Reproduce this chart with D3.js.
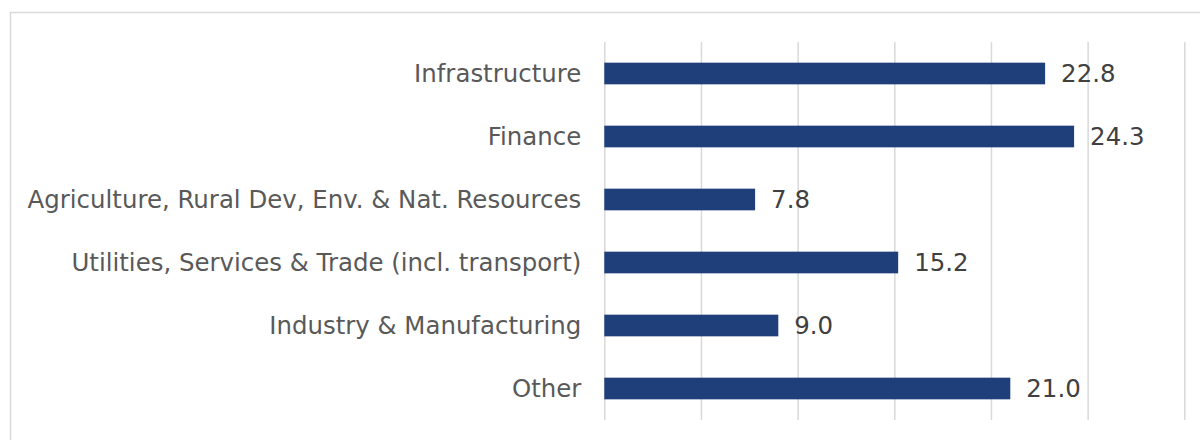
<!DOCTYPE html>
<html>
<head>
<meta charset="utf-8">
<script src="https://cdn.jsdelivr.net/npm/d3@7"></script>
<style>
  body { margin: 0; background: #fff; }
</style>
</head>
<body>
<div id="chart"></div>
<script>
var w = 1200,
    h = 440,
    x0 = 604.3,
    x1 = 1184.3,
    top_y = 42,
    bottom_y = 420,
    font = "'DejaVu Sans'",
    font_size = 24.45;

// data
var sectors = ['Infrastructure', 'Finance', 'Agriculture, Rural Dev, Env. & Nat. Resources',
               'Utilities, Services & Trade (incl. transport)', 'Industry & Manufacturing', 'Other'];
var shares = [22.8, 24.3, 7.8, 15.2, 9.0, 21.0];
var ticks = [0, 5, 10, 15, 20, 25, 30];

var svg = d3.select('#chart').append('svg')
    .attr('width', w)
    .attr('height', h);

// chart frame
svg.append('rect')
    .attr('x', 10.5)
    .attr('y', 12.5)
    .attr('width', 1200)
    .attr('height', 460)
    .attr('fill', '#fff')
    .attr('stroke', '#d9d9d9')
    .attr('stroke-width', 1.5);

var x = d3.scaleLinear().domain([0, 30]).range([x0, x1]);
var y = d3.scaleBand().domain(sectors).range([top_y, bottom_y]).paddingInner(0.656).paddingOuter(0.328);

// vertical gridlines
var grid = svg.append('g')
    .attr('transform', 'translate(0,' + bottom_y + ')')
    .call(d3.axisBottom(x).tickValues(ticks).tickSize(-(bottom_y - top_y)).tickFormat(''));
grid.select('.domain').remove();
grid.selectAll('line').attr('stroke', '#d9d9d9').attr('stroke-width', 1.5);

// category labels
var yAxis = svg.append('g')
    .attr('transform', 'translate(' + (x0 - 23) + ',0)')
    .call(d3.axisLeft(y).tickSize(0).tickPadding(0));
yAxis.select('.domain').remove();
yAxis.attr('font-family', null).attr('font-size', null);
yAxis.selectAll('text')
    .attr('fill', '#595959')
    .attr('dy', '0.35em')
    .style('font-family', font)
    .style('font-size', font_size + 'px');

var rows = sectors.map(function(s, i){ return {name: s, value: shares[i]}; });

svg.selectAll('rect.bar')
    .data(rows)
  .enter().append('rect')
    .attr('class', 'bar')
    .attr('x', x(0))
    .attr('y', function(d){ return y(d.name); })
    .attr('width', function(d){ return x(d.value) - x(0); })
    .attr('height', y.bandwidth())
    .attr('fill', '#1f3f7a');

svg.selectAll('text.val')
    .data(rows)
  .enter().append('text')
    .attr('class', 'val')
    .attr('x', function(d){ return x(d.value) + 16; })
    .attr('y', function(d){ return y(d.name) + y.bandwidth() / 2; })
    .attr('dy', '0.35em')
    .attr('fill', '#404040')
    .style('font-family', font)
    .style('font-size', font_size + 'px')
    .text(function(d){ return d.value.toFixed(1); });
</script>
</body>
</html>
